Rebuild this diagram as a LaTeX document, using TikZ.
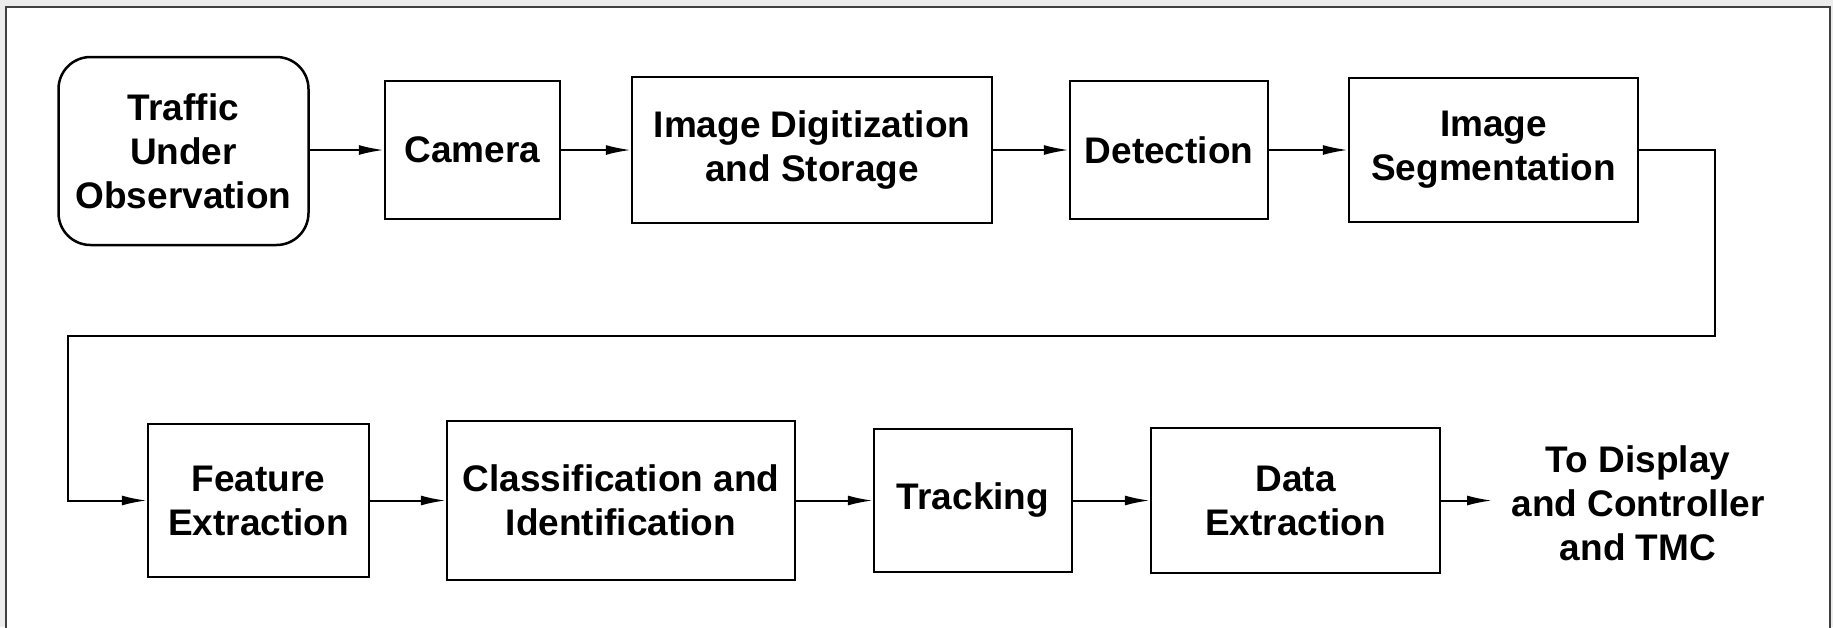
\documentclass[tikz,border=0pt]{standalone}
\usepackage{fontspec}
\setmainfont{Liberation Sans}
\usetikzlibrary{arrows.meta}
\tikzset{
  blk/.style={draw,line width=2.5pt,align=center,inner sep=0pt,
    font=\bfseries\fontsize{37}{44}\selectfont},
  conn/.style={line width=2pt,-{Latex[length=25pt,width=10pt]}},
}
\begin{document}
\begin{tikzpicture}[x=1pt,y=-1pt]
\useasboundingbox (0,0) rectangle (1833,627);
\fill[gray!15] (0,0) rectangle (1833,627);
\draw[line width=2pt,black!75,fill=white] (6,7) rectangle (1830,660);
% first row
\node[blk,rounded corners=32pt,minimum width=250pt,minimum height=188pt] (traffic) at (183.5,151){Traffic\\Under\\Observation};
\node[blk,minimum width=175pt,minimum height=138pt] (camera) at (472.5,150){Camera};
\node[blk,minimum width=360pt,minimum height=146pt] (digit) at (812,150){Image Digitization\\and Storage};
\node[blk,minimum width=198pt,minimum height=138pt] (detect) at (1169,150){Detection};
\node[blk,minimum width=289pt,minimum height=144pt] (segment) at (1493.5,150){Image\\Segmentation};
% second row
\node[blk,minimum width=221pt,minimum height=153pt] (feature) at (258.5,500.5){Feature\\Extraction};
\node[blk,minimum width=348pt,minimum height=159pt] (classif) at (621,500.5){Classification and\\Identification};
\node[blk,minimum width=198pt,minimum height=143pt] (track) at (973,500.5){Tracking};
\node[blk,minimum width=289pt,minimum height=145pt] (dataext) at (1295.5,500.5){Data\\Extraction};
\node[blk,draw=none] (disp) at (1638,503){To Display\\and Controller\\and TMC};
\coordinate (bendR) at (1715,336);
\coordinate (bendL) at (68,336);
\coordinate (outend) at (1492,500.5);
% connectors
\draw[conn] (traffic.east |- camera.west) -- (camera);
\draw[conn] (camera) -- (digit);
\draw[conn] (digit) -- (detect);
\draw[conn] (detect) -- (segment);
\draw[conn] (segment.east) -| (bendR) -- (bendL) |- (feature.west);
\draw[conn] (feature) -- (classif);
\draw[conn] (classif) -- (track);
\draw[conn] (track) -- (dataext);
\draw[conn] (dataext.east) -- (outend);
\end{tikzpicture}
\end{document}
